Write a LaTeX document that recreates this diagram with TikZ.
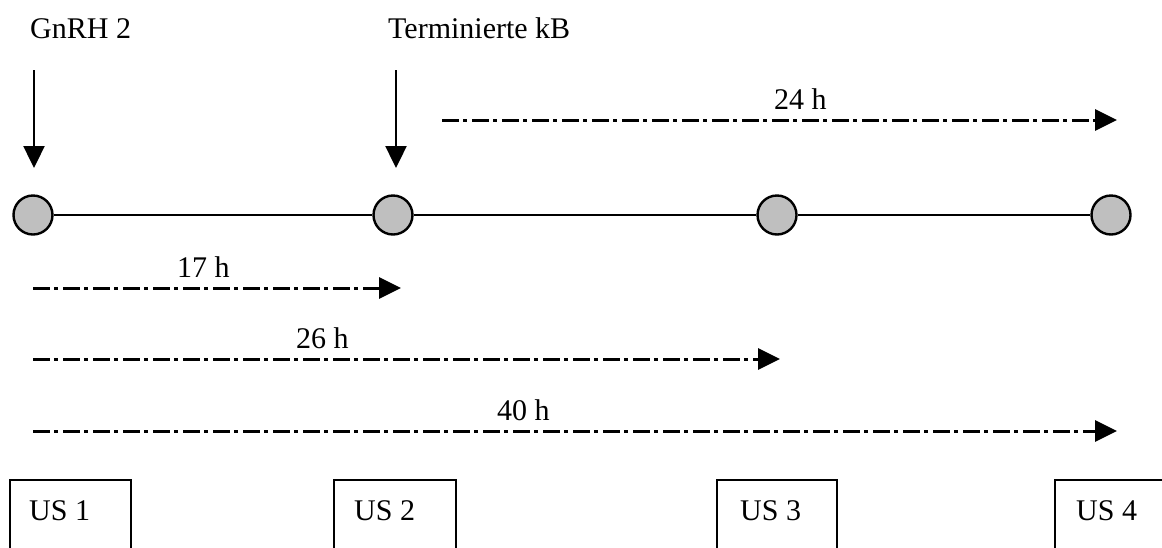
\documentclass[tikz,border=0pt]{standalone}
\usepackage{fontspec}
\setmainfont{Liberation Serif}
\usetikzlibrary{arrows.meta}
\begin{document}
\begin{tikzpicture}[x=1pt,y=-1pt,
  every node/.style={font=\fontsize{30}{36}\selectfont, inner sep=0pt},
  dot/.style={circle, draw, line width=2.4pt, fill=black!25, minimum size=39pt},
  tl/.style={line width=2.4pt},
  pointer/.style={line width=2.4pt, -{Triangle[length=22pt,width=21pt]}},
  dd/.style={line width=3pt, dash pattern=on 17pt off 4pt on 4pt off 5pt, -{Triangle[length=22pt,width=21pt]}},
  usbox/.style={draw, line width=2.4pt, anchor=north west, minimum height=120pt},
  lbl/.style={anchor=base west}]
\useasboundingbox (0,0) rectangle (1162,547);
\clip (0,0) rectangle (1162,547);
% texts on top
\node[lbl] (gnrh) at (30,38) {GnRH 2};
\node[lbl] (term) at (388,38) {Terminierte kB};
% circles
\node[dot] (c1) at (33,215) {};
\node[dot] (c2) at (393,215) {};
\node[dot] (c3) at (777,215) {};
\node[dot] (c4) at (1111,215) {};
\draw[tl] (c1) -- (c2) -- (c3) -- (c4);
% down arrows
\coordinate (a1s) at (34,70);
\coordinate (a1e) at (34,168);
\coordinate (a2s) at (396,70);
\coordinate (a2e) at (396,168);
\draw[pointer] (a1s) -- (a1e);
\draw[pointer] (a2s) -- (a2e);
% dash-dot arrows
\coordinate (d24s) at (442,120); \coordinate (d24e) at (1117,120);
\coordinate (d17s) at (33,288); \coordinate (d17e) at (401,288);
\coordinate (d26s) at (33,359); \coordinate (d26e) at (780,359);
\coordinate (d40s) at (33,431); \coordinate (d40e) at (1117,431);
\draw[dd] (d24s) -- (d24e);
\draw[dd] (d17s) -- (d17e);
\draw[dd] (d26s) -- (d26e);
\draw[dd] (d40s) -- (d40e);
\node[lbl] (l24) at (774,109) {24 h};
\node[lbl] (l17) at (177,277) {17 h};
\node[lbl] (l26) at (296,348) {26 h};
\node[lbl] (l40) at (497,420) {40 h};
% boxes
\node[usbox, minimum width=121pt] (us1) at (9,479) {};
\node[usbox, minimum width=122pt] (us2) at (333,479) {};
\node[usbox, minimum width=120pt] (us3) at (716,479) {};
\node[usbox, minimum width=122pt] (us4) at (1054,479) {};
\node[lbl] (t1) at (29,520) {US 1};
\node[lbl] (t2) at (354,520) {US 2};
\node[lbl] (t3) at (740,520) {US 3};
\node[lbl] (t4) at (1076,520) {US 4};
\end{tikzpicture}
\end{document}
